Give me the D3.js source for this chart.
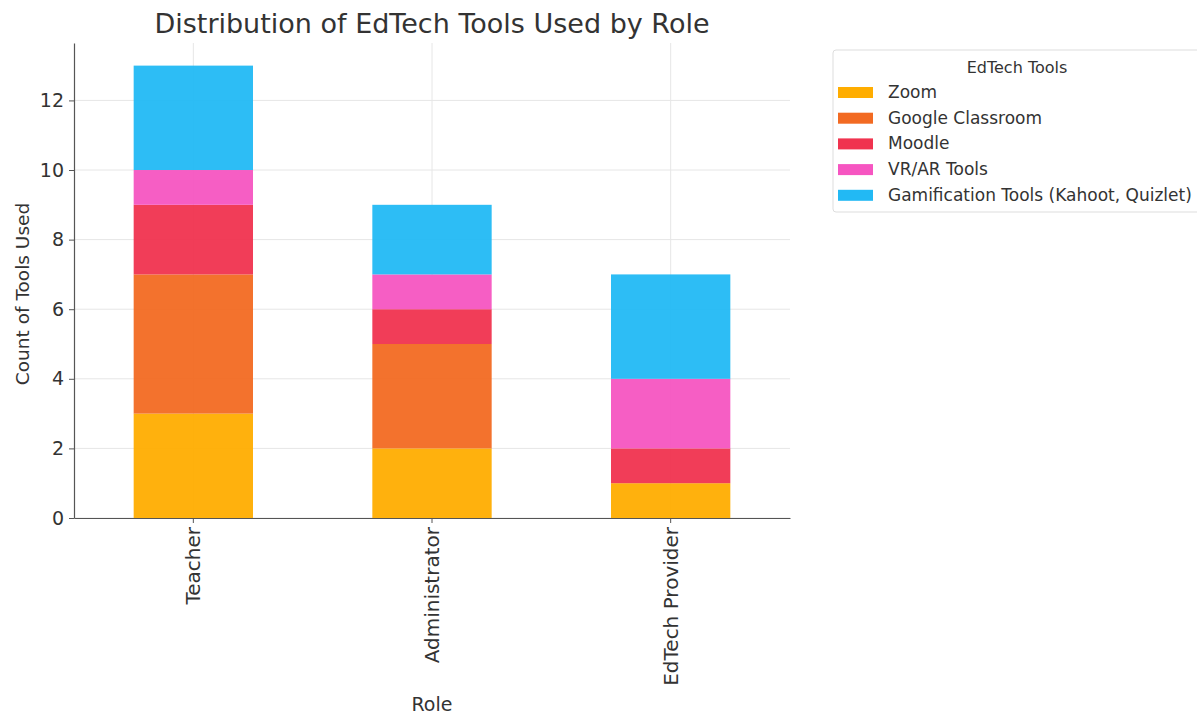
<!DOCTYPE html>
<html>
<head>
<meta charset="utf-8">
<script src="https://cdn.jsdelivr.net/npm/d3@7"></script>
<style>
  html, body { margin: 0; padding: 0; background: #fff; }
  svg { display: block; font-family: "DejaVu Sans", sans-serif; }
</style>
</head>
<body>
<svg id="chart" width="1197" height="715"></svg>
<script>
// Roles on the x axis
const roles = ["Teacher", "Administrator", "EdTech Provider"];
// Tools, stacked bottom to top
const tools = ["Zoom", "Google Classroom", "Moodle", "VR/AR Tools", "Gamification Tools (Kahoot, Quizlet)"];
const toolColors = ["#FFAD00", "#F26A22", "#F0334F", "#F655C1", "#22B9F4"];
// Counts per tool, in role order
const zoom       = [3, 2, 1];
const classroom  = [4, 3, 0];
const moodle     = [2, 1, 1];
const vrar       = [1, 1, 2];
const gamify     = [3, 2, 3];
const yTicks = [0, 2, 4, 6, 8, 10, 12];

const series = [zoom, classroom, moodle, vrar, gamify];
const rows = roles.map((r, i) => {
  const o = { role: r };
  tools.forEach((t, k) => { o[t] = series[k][i]; });
  return o;
});
const stacked = d3.stack().keys(tools)(rows);
const totalMax = d3.max(rows, d => d3.sum(tools, t => d[t]));

const svg = d3.select("#chart");
const margin = { left: 74, right: 790, top: 43, bottom: 518 };

const x = d3.scaleBand().domain(roles).range([margin.left, margin.right]).paddingInner(0.5).paddingOuter(0.25);
const y = d3.scaleLinear().domain([0, totalMax * 1.05]).range([margin.bottom, margin.top]);

// grid
const grid = svg.append("g");
grid.selectAll(".hg").data(yTicks).join("line")
  .attr("x1", margin.left).attr("x2", margin.right)
  .attr("y1", d => y(d)).attr("y2", d => y(d))
  .attr("stroke", "#e6e6e6").attr("stroke-width", 1);
grid.selectAll(".vg").data(roles).join("line")
  .attr("x1", d => x(d) + x.bandwidth() / 2).attr("x2", d => x(d) + x.bandwidth() / 2)
  .attr("y1", margin.top).attr("y2", margin.bottom)
  .attr("stroke", "#e6e6e6").attr("stroke-width", 1);

// stacked bars
svg.append("g").selectAll("g").data(stacked).join("g")
  .attr("fill", (d, i) => toolColors[i])
  .attr("fill-opacity", 0.95)
  .selectAll("rect").data(d => d).join("rect")
  .attr("x", d => x(d.data.role))
  .attr("width", x.bandwidth())
  .attr("y", d => y(d[1]))
  .attr("height", d => y(d[0]) - y(d[1]));

// axes
const yAxis = svg.append("g").attr("transform", `translate(${margin.left},0)`)
  .call(d3.axisLeft(y).tickValues(yTicks).tickSize(5).tickSizeOuter(0).tickPadding(5));
const xAxis = svg.append("g").attr("transform", `translate(0,${margin.bottom})`)
  .call(d3.axisBottom(x).tickSize(5).tickSizeOuter(0).tickPadding(6));
[yAxis, xAxis].forEach(a => {
  a.select(".domain").attr("stroke", "#555").attr("stroke-width", 1.2);
  a.selectAll(".tick line").attr("stroke", "#555");
  a.selectAll("text").attr("fill", "#333").style("font-size", "19px").style("font-family", "DejaVu Sans");
});
xAxis.selectAll(".tick text")
  .style("font-size", "20px")
  .attr("transform", "rotate(-90)")
  .attr("text-anchor", "end")
  .attr("x", -9).attr("y", 0).attr("dy", "0.35em");

// titles
svg.append("text").attr("x", (margin.left + margin.right) / 2).attr("y", 33)
  .attr("text-anchor", "middle").attr("fill", "#333").style("font-size", "27px")
  .text("Distribution of EdTech Tools Used by Role");
svg.append("text").attr("x", (margin.left + margin.right) / 2).attr("y", 711)
  .attr("text-anchor", "middle").attr("fill", "#333").style("font-size", "19px")
  .text("Role");
svg.append("text").attr("transform", "translate(29,294) rotate(-90)")
  .attr("text-anchor", "middle").attr("fill", "#333").style("font-size", "18.5px")
  .text("Count of Tools Used");

// legend
const lg = svg.append("g").attr("transform", "translate(833,50)");
lg.append("rect").attr("x", 0).attr("y", 0).attr("width", 380).attr("height", 162)
  .attr("rx", 3).attr("fill", "#fff").attr("stroke", "#ddd");
lg.append("text").attr("x", 184).attr("y", 23).attr("text-anchor", "middle")
  .attr("fill", "#333").style("font-size", "16px").text("EdTech Tools");
const items = lg.selectAll(".item").data(tools).join("g")
  .attr("transform", (d, i) => `translate(0,${42 + i * 25.7})`);
items.append("rect").attr("x", 5).attr("y", -5).attr("width", 35).attr("height", 11)
  .attr("fill", (d, i) => toolColors[i]);
items.append("text").attr("x", 55).attr("y", 0).attr("dy", "0.35em")
  .attr("fill", "#333").style("font-size", "17px").text(d => d);
</script>
</body>
</html>
